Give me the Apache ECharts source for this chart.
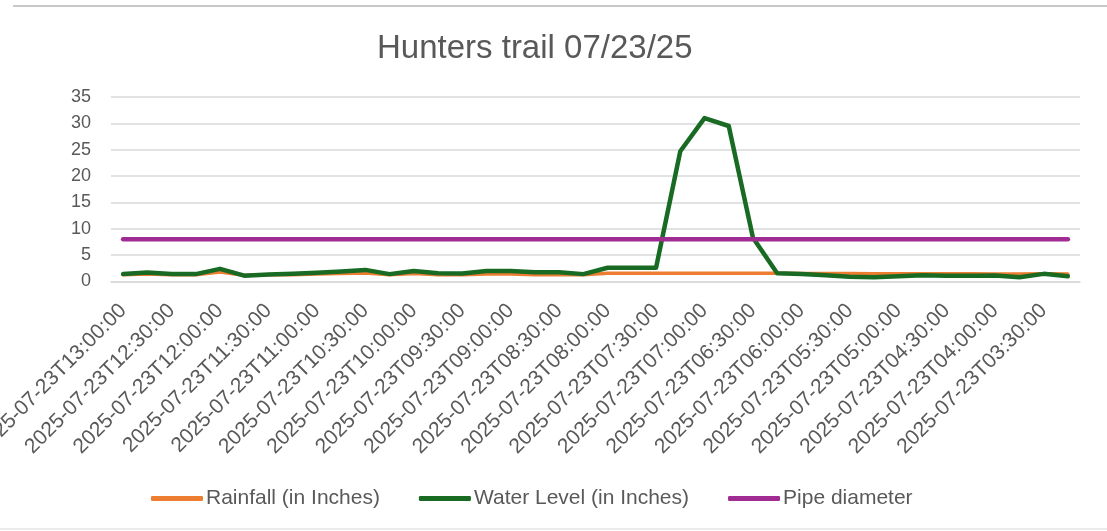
<!DOCTYPE html>
<html>
<head>
<meta charset="utf-8">
<title>Hunters trail 07/23/25</title>
<script src="https://cdn.jsdelivr.net/npm/echarts@6/dist/echarts.min.js"></script>
<style>
  html, body { margin: 0; padding: 0; background: #fff; }
  #chart { width: 1107px; height: 531px; }
</style>
</head>
<body>
<div id="chart"></div>
<script>
// readings every 15 minutes, newest first
const categories = [
  '2025-07-23T13:00:00', '2025-07-23T12:45:00', '2025-07-23T12:30:00', '2025-07-23T12:15:00',
  '2025-07-23T12:00:00', '2025-07-23T11:45:00', '2025-07-23T11:30:00', '2025-07-23T11:15:00',
  '2025-07-23T11:00:00', '2025-07-23T10:45:00', '2025-07-23T10:30:00', '2025-07-23T10:15:00',
  '2025-07-23T10:00:00', '2025-07-23T09:45:00', '2025-07-23T09:30:00', '2025-07-23T09:15:00',
  '2025-07-23T09:00:00', '2025-07-23T08:45:00', '2025-07-23T08:30:00', '2025-07-23T08:15:00',
  '2025-07-23T08:00:00', '2025-07-23T07:45:00', '2025-07-23T07:30:00', '2025-07-23T07:15:00',
  '2025-07-23T07:00:00', '2025-07-23T06:45:00', '2025-07-23T06:30:00', '2025-07-23T06:15:00',
  '2025-07-23T06:00:00', '2025-07-23T05:45:00', '2025-07-23T05:30:00', '2025-07-23T05:15:00',
  '2025-07-23T05:00:00', '2025-07-23T04:45:00', '2025-07-23T04:30:00', '2025-07-23T04:15:00',
  '2025-07-23T04:00:00', '2025-07-23T03:45:00', '2025-07-23T03:30:00', '2025-07-23T03:15:00'
]

const rainfall = [
  1.3, 1.4, 1.3, 1.3, 1.8, 1.2, 1.3, 1.3, 1.4, 1.5,
  1.6, 1.3, 1.5, 1.3, 1.3, 1.4, 1.4, 1.3, 1.3, 1.3,
  1.55, 1.55, 1.55, 1.55, 1.55, 1.55, 1.55, 1.55, 1.5, 1.5,
  1.5, 1.45, 1.45, 1.45, 1.45, 1.45, 1.4, 1.4, 1.45, 1.4
]

const waterLevel = [
  1.4, 1.7, 1.4, 1.4, 2.4, 1.1, 1.35, 1.45, 1.65, 1.9,
  2.2, 1.4, 2.0, 1.55, 1.5, 2.0, 2.0, 1.75, 1.75, 1.4,
  2.6, 2.6, 2.6, 24.7, 31.0, 29.5, 8.3, 1.55, 1.4, 1.2,
  0.9, 0.8, 1.0, 1.2, 1.1, 1.1, 1.15, 0.8, 1.45, 1.0
]

const pipeDiameter = [
  8, 8, 8, 8, 8, 8, 8, 8, 8, 8,
  8, 8, 8, 8, 8, 8, 8, 8, 8, 8,
  8, 8, 8, 8, 8, 8, 8, 8, 8, 8,
  8, 8, 8, 8, 8, 8, 8, 8, 8, 8
]

const yTicks = { min: 0, max: 35, interval: 5 }

const textColor = '#595959'
const fontFamily = '"Liberation Sans", Arial, sans-serif'

const chart = echarts.init(document.getElementById('chart'))

const option = {
  animation: false,
  backgroundColor: '#fff',
  textStyle: { fontFamily: fontFamily },
  title: {
    text: 'Hunters trail 07/23/25',
    left: 372,
    top: 27,
    textStyle: {
      color: textColor,
      fontSize: 33,
      fontWeight: 'normal',
      fontFamily: fontFamily
    }
  },
  graphic: [
    {
      type: 'line',
      shape: { x1: 13, y1: 6, x2: 1107, y2: 6 },
      style: { stroke: '#c8c8c8', lineWidth: 2 }
    },
    {
      type: 'line',
      shape: { x1: 0, y1: 529, x2: 1107, y2: 529 },
      style: { stroke: '#ececec', lineWidth: 2 }
    }
  ],
  legend: {
    top: 483,
    left: 146,
    itemWidth: 52,
    itemHeight: 5,
    itemGap: 39,
    icon: 'roundRect',
    textStyle: {
      color: textColor,
      fontSize: 21,
      padding: [0, 0, 0, -2]
    },
    data: ['Rainfall (in Inches)', 'Water Level (in Inches)', 'Pipe diameter']
  },
  grid: {
    left: 111,
    right: 27,
    top: 97,
    bottom: 249.5,
    containLabel: false,
    outerBoundsMode: 'none'
  },
  xAxis: {
    type: 'category',
    boundaryGap: true,
    data: categories,
    axisLine: { lineStyle: { color: '#d9d9d9', width: 1.5 } },
    axisTick: { show: false },
    axisLabel: {
      interval: function (index) {
        return index % 2 === 0
      },
      rotate: 45,
      margin: 26,
      color: textColor,
      fontSize: 21
    }
  },
  yAxis: {
    type: 'value',
    min: yTicks.min,
    max: yTicks.max,
    interval: yTicks.interval,
    axisLine: { show: false },
    axisTick: { show: false },
    axisLabel: {
      color: textColor,
      fontSize: 18,
      margin: 20
    },
    splitLine: { lineStyle: { color: '#d9d9d9', width: 1.5 } }
  },
  series: [
    {
      name: 'Rainfall (in Inches)',
      type: 'line',
      data: rainfall,
      symbol: 'none',
      color: '#ED7D31',
      lineStyle: { color: '#ED7D31', width: 3.5, cap: 'round', join: 'round' }
    },
    {
      name: 'Water Level (in Inches)',
      type: 'line',
      data: waterLevel,
      symbol: 'none',
      color: '#196B24',
      lineStyle: { color: '#196B24', width: 4.5, cap: 'round', join: 'round' }
    },
    {
      name: 'Pipe diameter',
      type: 'line',
      data: pipeDiameter,
      symbol: 'none',
      color: '#A02B93',
      lineStyle: { color: '#A02B93', width: 4.5, cap: 'round', join: 'round' }
    }
  ]
}

chart.setOption(option)
</script>
</body>
</html>
